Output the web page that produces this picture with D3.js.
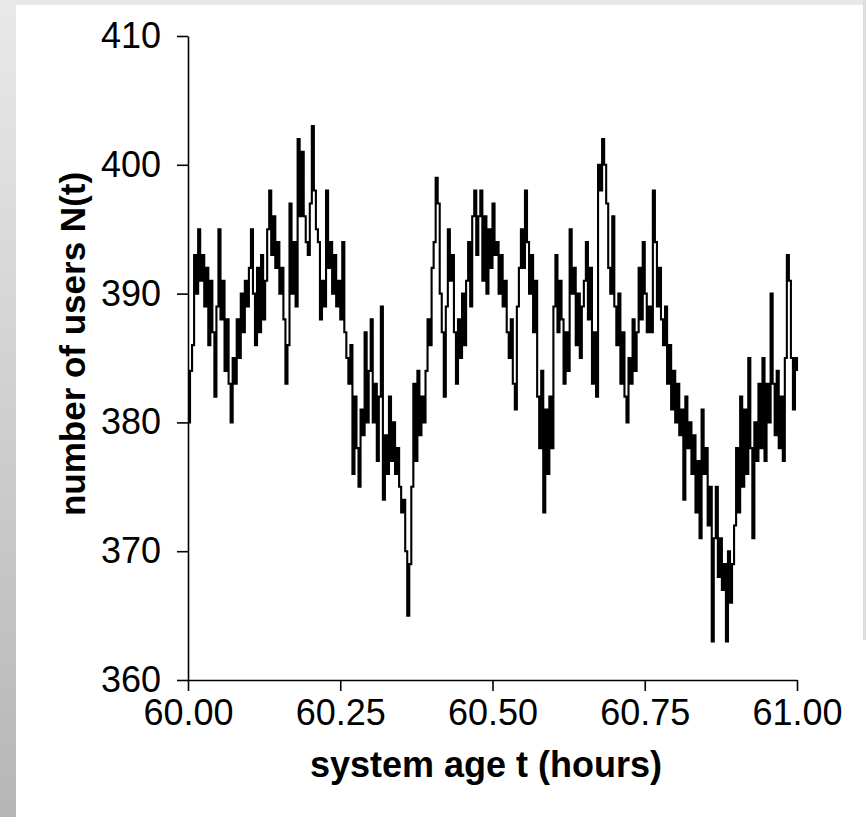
<!DOCTYPE html>
<html>
<head>
<meta charset="utf-8">
<script src="https://cdn.jsdelivr.net/npm/d3@7"></script>
<style>
  body { margin: 0; background: #ffffff; }
  svg { display: block; }
  .tick text { font-family: "Liberation Sans", Arial, sans-serif; }
</style>
</head>
<body>
<svg></svg>
<script>
// number of users N(t), one sample every 1/300 hour starting at t = 60.00
var users = [
  380,384,386,393,390,395,391,393,389,392, 386,391,387,382,389,395,388,391,384,388,
  383,380,385,383,388,385,390,387,391,389, 392,395,390,386,392,387,393,388,391,395,
  398,393,396,392,394,390,392,388,383,386, 397,390,394,389,402,396,401,396,394,393,
  397,403,398,395,394,388,391,389,398,392, 394,390,393,389,391,388,394,387,385,383,
  386,376,382,378,375,381,379,387,380,384, 388,380,383,377,382,389,374,379,376,382,
  377,380,376,378,375,373,374,370,365,369, 375,383,377,384,379,382,380,384,388,386,
  392,394,399,397,390,387,382,389,395,391, 393,387,383,388,385,390,386,391,394,389,
  396,398,393,396,398,391,396,390,395,392, 397,393,394,390,393,389,391,387,385,388,
  383,381,389,392,395,392,398,394,390,393, 387,391,382,378,384,373,381,376,382,378,
  389,393,387,391,388,383,387,384,395,390, 392,386,390,385,389,391,394,388,392,383,
  387,382,400,398,402,400,397,392,390,396, 389,386,390,383,387,382,380,385,383,388,
  384,387,392,388,394,390,387,389,387,398, 394,389,392,388,386,389,383,386,381,384,
  380,383,379,381,374,382,378,380,376,379, 373,377,371,381,376,378,372,375,363,371,
  375,368,371,367,369,363,370,366,369,372, 378,373,382,375,381,376,385,378,371,380,
  377,383,378,385,377,383,380,390,383,379, 384,378,382,377,385,393,391,385,381,385,
  384
];
var tStart = 60, tStep = 1 / 300;

var xTicks = [60, 60.25, 60.5, 60.75, 61];
var yTicks = [360, 370, 380, 390, 400, 410];
var xTitle = "system age t (hours)";
var yTitle = "number of users N(t)";

var svgWidth = 866, svgHeight = 817;

var svg = d3.select("svg")
  .attr("width", svgWidth)
  .attr("height", svgHeight);

// grey frame: band on top, gradient strip on the left
var defs = svg.append("defs");
var grad = defs.append("linearGradient")
  .attr("id", "leftStrip")
  .attr("x1", 0).attr("y1", 0).attr("x2", 0).attr("y2", 1);
grad.append("stop").attr("offset", "0%").attr("stop-color", "#e9e9e9");
grad.append("stop").attr("offset", "100%").attr("stop-color", "#b6b6b6");

svg.append("rect")
  .attr("x", 0).attr("y", 0)
  .attr("width", svgWidth).attr("height", 5)
  .attr("fill", "#e8e8e8");
svg.append("rect")
  .attr("x", 0).attr("y", 0)
  .attr("width", 16).attr("height", svgHeight)
  .attr("fill", "url(#leftStrip)");
svg.append("rect")
  .attr("x", 863).attr("y", 0)
  .attr("width", 3).attr("height", 640)
  .attr("fill", "#dedede");

var x = d3.scaleLinear().domain([60, 61]).range([188, 797]);
var y = d3.scaleLinear().domain([360, 410]).range([680, 36]);

var line = d3.line()
  .x(function(d, i) { return x(tStart + i * tStep); })
  .y(function(d) { return y(d); })
  .curve(d3.curveStepAfter);

svg.append("path")
  .datum(users)
  .attr("fill", "none")
  .attr("stroke", "#000")
  .attr("stroke-width", 2.1)
  .attr("d", line);

var xAxis = svg.append("g")
  .attr("transform", "translate(0,680)")
  .call(d3.axisBottom(x)
    .tickValues(xTicks)
    .tickFormat(d3.format(".2f"))
    .tickSize(11)
    .tickSizeOuter(0)
    .tickPadding(8));

var yAxis = svg.append("g")
  .attr("transform", "translate(188,0)")
  .call(d3.axisLeft(y)
    .tickValues(yTicks)
    .tickFormat(d3.format("d"))
    .tickSize(11)
    .tickSizeOuter(0)
    .tickPadding(16));

svg.selectAll(".domain, .tick line")
  .attr("stroke", "#000")
  .attr("stroke-width", 1.6);

svg.selectAll(".tick text")
  .attr("fill", "#000")
  .style("font-size", "36px");

svg.append("text")
  .attr("x", 486)
  .attr("y", 777)
  .attr("text-anchor", "middle")
  .style("font-family", "'Liberation Sans', Arial, sans-serif")
  .style("font-weight", "bold")
  .style("font-size", "36px")
  .text(xTitle);

svg.append("text")
  .attr("transform", "translate(85,344) rotate(-90)")
  .attr("text-anchor", "middle")
  .style("font-family", "'Liberation Sans', Arial, sans-serif")
  .style("font-weight", "bold")
  .style("font-size", "35px")
  .text(yTitle);
</script>
</body>
</html>
